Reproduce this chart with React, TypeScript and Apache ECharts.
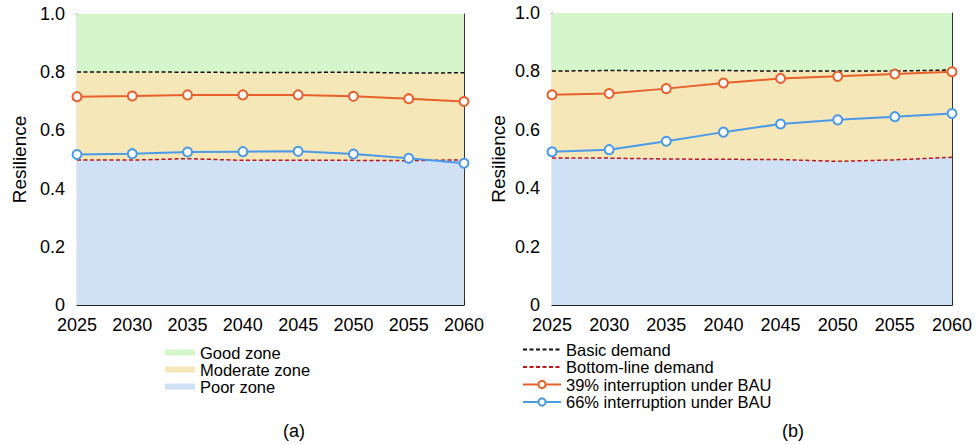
import React, { useEffect, useRef } from "react";
import * as echarts from "echarts";

const years = ["2025", "2030", "2035", "2040", "2045", "2050", "2055", "2060"];

// Panel (a)
const zoneTopA = [1, 1, 1, 1, 1, 1, 1, 1];
const basicA = [0.801, 0.801, 0.8, 0.799, 0.799, 0.8, 0.797, 0.798];
const bottomA = [0.498, 0.498, 0.503, 0.497, 0.497, 0.497, 0.496, 0.499];
const bau39A = [0.716, 0.718, 0.722, 0.722, 0.722, 0.717, 0.709, 0.699];
const bau66A = [0.517, 0.52, 0.526, 0.527, 0.528, 0.519, 0.504, 0.487];

// Panel (b)
const zoneTopB = [1, 1, 1, 1, 1, 1, 1, 1];
const basicB = [0.801, 0.803, 0.802, 0.803, 0.801, 0.801, 0.801, 0.805];
const bottomB = [0.503, 0.503, 0.5, 0.499, 0.498, 0.492, 0.497, 0.506];
const bau39B = [0.72, 0.724, 0.741, 0.76, 0.776, 0.783, 0.791, 0.799];
const bau66B = [0.525, 0.532, 0.561, 0.592, 0.62, 0.634, 0.645, 0.656];

const zoneNames = ["Good zone", "Moderate zone", "Poor zone"];
const lineNames = ["Basic demand", "Bottom-line demand", "39% interruption under BAU", "66% interruption under BAU"];
const panelLabels = ["(a)", "(b)"];

const FONT = "'Liberation Sans', Arial, Helvetica, sans-serif";
const GREEN = "#d5f5ca";
const YELLOW = "#f5e7b8";
const BLUE_ZONE = "#d0e1f6";
const ORANGE = "#e8602c";
const BLUE = "#4a9ae8";
const RED = "#c0141c";
const BLACK = "#111111";

function panelSeries(idx: number, top: number[], basic: number[], bottom: number[], o: number[], b: number[]) {
  const axes = { xAxisIndex: idx, yAxisIndex: idx };
  const zone = (name: string, data: number[], color: string, z: number) => ({
    name,
    type: "line",
    ...axes,
    data,
    symbol: "none",
    silent: true,
    color,
    lineStyle: { width: 0, color },
    areaStyle: { color, opacity: 1 },
    z,
  });
  const dashed = (name: string, data: number[], color: string) => ({
    name,
    type: "line",
    ...axes,
    data,
    symbol: "none",
    color,
    lineStyle: { width: 1.5, color, type: [4, 2.5] },
    z: 5,
  });
  const marked = (name: string, data: number[], color: string) => ({
    name,
    type: "line",
    ...axes,
    data,
    symbol: "circle",
    symbolSize: 9,
    color,
    lineStyle: { width: 2, color },
    itemStyle: { color: "#ffffff", borderColor: color, borderWidth: 2 },
    z: 6,
  });
  return [
    zone(zoneNames[0], top, GREEN, 1),
    zone(zoneNames[1], basic, YELLOW, 2),
    zone(zoneNames[2], bottom, BLUE_ZONE, 3),
    dashed(lineNames[0], basic, BLACK),
    dashed(lineNames[1], bottom, RED),
    marked(lineNames[2], o, ORANGE),
    marked(lineNames[3], b, BLUE),
  ];
}

export default function App() {
  const ref = useRef<HTMLDivElement>(null);
  useEffect(() => {
    if (!ref.current) return;
    const chart = echarts.init(ref.current, null, { renderer: "svg" });
    const grids = [
      { left: 77, top: 14, width: 387, height: 291 },
      { left: 552, top: 13, width: 400, height: 292 },
    ];
    const bottomX = (g: number) => ({
      type: "category",
      gridIndex: g,
      data: years,
      boundaryGap: false,
      position: "bottom",
      axisLine: { show: true, lineStyle: { color: "#222", width: 1.2 } },
      axisTick: { show: true, inside: true, length: 5, alignWithLabel: true, lineStyle: { color: "#222" } },
      axisLabel: { interval: 0, color: "#000", fontSize: 18, fontFamily: FONT, margin: 11 },
      splitLine: { show: false },
    });
    const topX = (g: number) => ({
      type: "category",
      gridIndex: g,
      data: years,
      boundaryGap: false,
      position: "top",
      axisLine: { show: true, onZero: false, lineStyle: { color: "#333", width: 1 } },
      axisTick: { show: false },
      axisLabel: { show: false },
      splitLine: { show: false },
    });
    const leftY = (g: number, gap: number) => ({
      type: "value",
      gridIndex: g,
      min: 0,
      max: 1,
      interval: 0.2,
      position: "left",
      name: "Resilience",
      nameLocation: "middle",
      nameGap: gap,
      nameTextStyle: { color: "#000", fontSize: 19, fontFamily: FONT },
      axisLine: { show: true, lineStyle: { color: "#222", width: 1.2 } },
      axisTick: { show: true, inside: true, length: 5, lineStyle: { color: "#222" } },
      axisLabel: {
        color: "#000",
        fontSize: 18,
        fontFamily: FONT,
        margin: 12,
        formatter: (v: number) => (v === 0 ? "0" : v.toFixed(1)),
      },
      splitLine: { show: false },
    });
    const rightY = (g: number) => ({
      type: "value",
      gridIndex: g,
      min: 0,
      max: 1,
      interval: 0.2,
      position: "right",
      axisLine: { show: true, onZero: false, lineStyle: { color: "#333", width: 1 } },
      axisTick: { show: false },
      axisLabel: { show: false },
      splitLine: { show: false },
    });
    const label = (text: string, x: number) => ({
      type: "text",
      x,
      y: 431,
      style: {
        text,
        fontSize: 18,
        fontFamily: FONT,
        fill: "#000",
        align: "center",
        verticalAlign: "middle",
      },
    });

    chart.setOption({
      animation: false,
      backgroundColor: "#ffffff",
      textStyle: { fontFamily: FONT },
      grid: grids,
      xAxis: [bottomX(0), bottomX(1), topX(0), topX(1)],
      yAxis: [leftY(0, 48), leftY(1, 44), rightY(0), rightY(1)],
      legend: [
        {
          left: 165,
          top: 344,
          padding: 0,
          orient: "vertical",
          itemWidth: 30,
          itemHeight: 6,
          itemGap: 0,
          selectedMode: false,
          textStyle: { fontSize: 16.5, lineHeight: 16.5, color: "#000", fontFamily: FONT },
          data: zoneNames.map((name) => ({ name, icon: "rect" })),
        },
        {
          left: 522,
          top: 341,
          padding: 0,
          orient: "vertical",
          itemWidth: 38,
          itemHeight: 9,
          itemGap: 0.5,
          selectedMode: false,
          textStyle: { fontSize: 16.5, lineHeight: 16.5, color: "#000", fontFamily: FONT },
          data: [
            { name: lineNames[0], itemStyle: { opacity: 0 } },
            { name: lineNames[1], itemStyle: { opacity: 0 } },
            { name: lineNames[2] },
            { name: lineNames[3] },
          ],
        },
      ],
      graphic: [label(panelLabels[0], 294), label(panelLabels[1], 793)],
      series: [
        ...panelSeries(0, zoneTopA, basicA, bottomA, bau39A, bau66A),
        ...panelSeries(1, zoneTopB, basicB, bottomB, bau39B, bau66B),
      ],
    });
    return () => chart.dispose();
  }, []);
  return <div ref={ref} style={{ position: "absolute", left: 0, top: 0, width: 979, height: 445 }} />;
}
